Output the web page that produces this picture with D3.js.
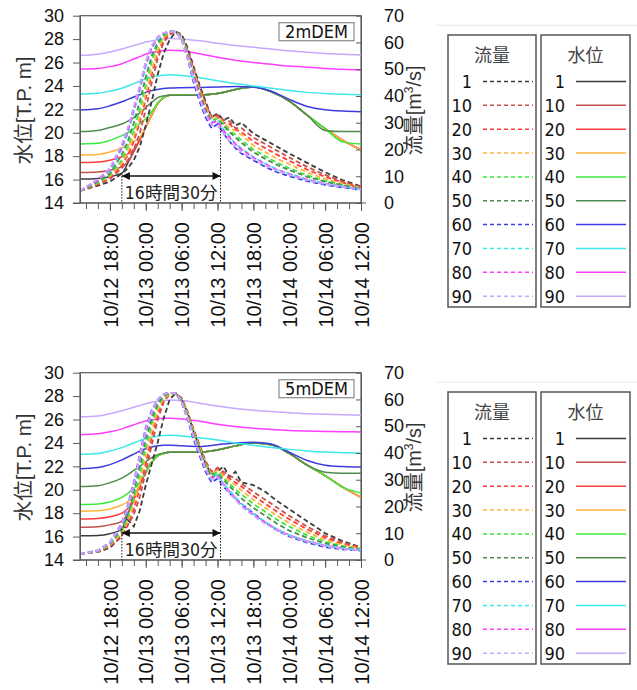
<!DOCTYPE html>
<html>
<head>
<meta charset="utf-8"/>
<script src="https://cdnjs.cloudflare.com/ajax/libs/d3/7.8.5/d3.min.js"></script>
<style>
  body { margin: 0; background: #fff; }
  svg { display: block; }
</style>
</head>
<body>
<script>
// cases (legend entries) and their colours
const caseLabels = ["1", "10", "20", "30", "40", "50", "60", "70", "80", "90"];
const caseColors = ["#3c3c3c", "#c8504a", "#ff3c3c", "#ffb43c", "#3ce83c", "#508c50", "#3c3ce0", "#3ce8e8", "#ff3cff", "#c8a8ff"];

// hours from 10/12 18:00
const levelHours = [-5, -2, 0, 2, 3, 4, 5, 6, 7, 8, 9, 10, 12, 15, 18, 21, 24, 27, 30, 33, 36, 39, 42];
const flowHours = [-5, -2, 0, 2, 3, 4, 5, 6, 7, 8, 9, 10, 11, 12, 13, 14, 15, 16, 17, 18, 19, 20, 21, 22, 24, 26, 28, 30, 33, 36, 39, 42];

// 水位 [T.P. m], 2mDEM
const level2m = [
  [16.04,16.1,16.25,16.55,17.4,18.4,19.4,20.5,21.5,22.5,23.0,23.2,23.2,23.22,23.35,23.7,23.9,23.5,22.7,21.5,20.35,19.35,18.55],
  [16.6,16.65,16.8,17.1,17.5,18.4,19.4,20.5,21.5,22.5,23.0,23.2,23.2,23.22,23.35,23.7,23.9,23.5,22.7,21.5,20.35,19.35,18.55],
  [17.46,17.5,17.65,17.95,18.2,18.6,19.4,20.5,21.5,22.5,23.0,23.2,23.2,23.22,23.35,23.7,23.9,23.5,22.7,21.5,20.35,19.35,18.55],
  [18.1,18.15,18.35,18.7,18.95,19.25,19.6,20.5,21.5,22.5,23.0,23.2,23.2,23.22,23.35,23.7,23.9,23.5,22.7,21.5,20.35,19.35,18.55],
  [19.05,19.1,19.35,19.75,20.0,20.35,20.8,21.2,21.8,22.55,23.0,23.2,23.2,23.22,23.35,23.7,23.9,23.5,22.7,21.5,20.35,19.2,19.05],
  [20.1,20.2,20.45,20.75,21.0,21.3,21.7,22.15,22.6,23.0,23.15,23.2,23.2,23.22,23.35,23.7,23.9,23.5,22.7,21.5,20.2,20.1,20.1],
  [21.95,22.05,22.3,22.65,22.85,23.05,23.25,23.45,23.6,23.7,23.78,23.82,23.85,23.87,23.9,23.95,23.9,23.55,22.85,22.25,21.97,21.85,21.8],
  [23.32,23.38,23.55,23.8,24.0,24.2,24.4,24.6,24.75,24.85,24.92,24.95,24.9,24.7,24.45,24.2,24.0,23.8,23.6,23.45,23.35,23.28,23.24],
  [25.45,25.5,25.65,25.9,26.1,26.3,26.5,26.7,26.85,26.95,27.02,27.05,27.0,26.75,26.45,26.2,26.0,25.85,25.7,25.6,25.5,25.42,25.37],
  [26.6,26.7,26.9,27.15,27.3,27.45,27.6,27.75,27.85,27.95,28.0,28.05,28.0,27.85,27.65,27.45,27.3,27.15,27.0,26.88,26.78,26.7,26.65]
];

// 流量 [m3/s], 2mDEM
const flow2m = [
  [4.5,6.5,8,11,13,16,21,29,38,48,56,61,64,63,58,51,44,38,32,33.5,31,32,29,30,26,23.5,21,18.5,15,11.5,8.5,6.2],
  [4.5,7,9,13,16,20,26,35,45,54,60,63,64,62.5,57,50,43,37,32,33,31,30.5,28,28,24.5,22,19.5,17,13.5,10.5,8,6],
  [4.5,7,9.5,14,18,23,30,39,48,56,61,63.5,64,62,57,50,43,37,32,32.5,30,29.5,27.5,26.5,23,20.5,18,15.8,12.5,9.8,7.6,5.8],
  [4.5,7.5,10,15,19,25,32,41,50,57,62,64,64,62,56,49,42,36,31,32,30,28,27,25.5,21.5,19,16.5,14.5,11.5,9,7.2,5.6],
  [4.5,7.5,10.5,16,21,27,35,44,53,59,62.5,64,64,62,56,48,41,35,31,31.5,29.5,27,25.5,23.5,20,17.5,15,13,10.3,8.3,6.8,5.4],
  [4.5,8,11,18,23,30,38,47,55,60,63,64,64,61.5,55,48,41,35,30,31,29,26.5,24.5,22.5,19,16.5,14.2,12.3,9.8,8,6.6,5.3],
  [4.5,8.8,12.8,21.5,27.5,35.5,43.5,52.5,58.5,62,63.5,64,64,61,54,45,38,32,28,29.5,26,23,20.5,18.5,16,13.5,11.5,10,8.2,6.8,5.8,4.9],
  [4.5,8.5,12,20,26,34,42,51,58,61.5,63.5,64,64,61.5,55,47,40,33,30,31,27.5,25,22,20.5,17.2,14.7,12.5,11,8.8,7.3,6.2,5.1],
  [4.5,8.5,12.5,21,27,35,43,52,58,62,63.5,64,64,61,55,47,40,34,30,30.5,27,24.5,22,20,17,14.5,12.3,10.8,8.7,7.2,6.1,5.1],
  [4.5,9,13,22,28,36,44,53,59,62,63.5,64,64,61,54,46,39,33,29,29,26,23,21,19,16.5,14,12,10.5,8.5,7,6,5]
];

// 水位 [T.P. m], 5mDEM
const level5m = [
  [16.08,16.1,16.25,16.65,17.9,19.2,20.4,21.5,22.35,22.9,23.1,23.2,23.2,23.22,23.4,23.75,24.0,23.85,23.1,22.1,21.2,20.2,19.35],
  [16.8,16.85,17.0,17.3,18.0,19.2,20.4,21.5,22.35,22.9,23.1,23.2,23.2,23.22,23.4,23.75,24.0,23.85,23.1,22.1,21.2,20.2,19.35],
  [17.5,17.55,17.7,18.0,18.4,19.3,20.4,21.5,22.35,22.9,23.1,23.2,23.2,23.22,23.4,23.75,24.0,23.85,23.1,22.1,21.2,20.2,19.35],
  [18.17,18.2,18.35,18.7,19.0,19.5,20.45,21.5,22.35,22.9,23.1,23.2,23.2,23.22,23.4,23.75,24.0,23.85,23.1,22.1,21.2,20.2,19.35],
  [18.74,18.78,18.95,19.35,19.7,20.1,20.6,21.5,22.35,22.9,23.1,23.2,23.2,23.22,23.4,23.75,24.0,23.85,23.1,22.1,21.2,20.2,19.72],
  [20.28,20.35,20.6,21.0,21.3,21.65,22.0,22.4,22.75,23.0,23.15,23.2,23.2,23.22,23.4,23.75,24.0,23.85,23.1,22.1,21.5,21.42,21.42],
  [21.8,21.9,22.15,22.55,22.8,23.05,23.3,23.5,23.65,23.75,23.8,23.8,23.75,23.7,23.85,24.0,24.05,23.9,23.2,22.5,22.1,21.98,21.94],
  [23.03,23.1,23.3,23.6,23.8,24.0,24.2,24.38,24.5,24.58,24.63,24.65,24.6,24.45,24.25,24.0,23.8,23.6,23.45,23.32,23.22,23.17,23.14],
  [24.7,24.78,24.95,25.2,25.38,25.55,25.72,25.87,25.97,26.05,26.1,26.1,26.05,25.85,25.6,25.4,25.25,25.15,25.07,25.02,24.98,24.96,24.94],
  [26.23,26.3,26.5,26.75,26.9,27.05,27.2,27.35,27.47,27.56,27.62,27.66,27.62,27.4,27.15,26.95,26.8,26.68,26.58,26.5,26.44,26.4,26.37]
];

// 流量 [m3/s], 5mDEM
const flow5m = [
  [2.2,3,4.5,9,15,12.5,18.5,28,36,44,53,60,62.3,60,55,48,42,36,32,33,35,31,33,29,28,25.5,22,19,14.5,10,7,4.7],
  [2.2,3.1,5,9,13,17,23.5,33,43,52.5,59,62,62.3,60.5,55.5,49,43,37,33,34.5,33,31.5,30.5,28.5,25.5,22.5,19.5,16.5,12.5,9,6.5,4.6],
  [2.2,3.2,5.3,9.5,13.5,19,26.5,36,46,54.5,60,62,62.3,60.5,55.5,48.5,42.5,36.5,32.5,34,32,30.5,29,27.5,24,21,18,15.2,11.5,8.3,6,4.5],
  [2.2,3.3,5.5,10,14.5,21,29,39,48.5,56,60.5,62,62.3,60,55,48,42,36,32,33.5,31.5,29.5,28,26,22.5,19.5,16.5,13.8,10.3,7.5,5.6,4.3],
  [2.2,3.3,5.8,11,16,23,32,42,51,57.5,61,62.3,62.3,60,54.5,47.5,41.5,35.5,31.5,33,30.5,28.5,26.5,24.5,21,18,15,12.5,9.2,6.8,5.2,4.1],
  [2.2,3.4,6,12,17.5,25.5,35,45,53,58.5,61.5,62.5,62.3,59.5,54,47,41,35,31,32,30,27.5,25.5,23,19.5,16.5,13.5,11,8.3,6.2,4.8,3.9],
  [2.2,3.6,6.6,13.8,20.5,29,39.5,49.5,56,60,62,62.5,62.3,59,52.5,45,39,33,29,30.5,27.5,25,23,21,17.5,14,11,8.8,6.5,4.8,4,3.5],
  [2.2,3.5,6.2,12.8,19,27.5,37.5,47.5,55,59.5,62,62.5,62.3,59.5,53.5,46.5,40,34,30,32,28.5,26,23.5,21,17.2,14.2,11.5,9.4,7.1,5.5,4.4,3.7],
  [2.2,3.5,6.3,13,19.5,28,38,48,55,59.8,62,62.5,62.3,59,53,46,40,34,30.5,31.5,28.5,25.5,23,20.5,17,14,11.3,9.2,7,5.4,4.3,3.7],
  [2.2,3.5,6.5,13.5,20,28.5,39,49,55.5,60,62,62.5,62.3,59,53,46,40,34,30,31,28,25,22.5,20,16.5,13.5,11,9,6.8,5.2,4.2,3.6]
];

// annotation: 16時間30分 between two times (hours), dotted lines start at these values
const annHours = [2, 18.5];
const annLevel = [16.55, 16.65];   // left dotted line top (水位)
const annFlow = [28, 29.5];         // right dotted line top (流量)

const panelNames = ["2mDEM", "5mDEM"];
const levelTicks = d3.range(14, 31, 2);
const flowTicks = d3.range(0, 71, 10);

const W = 637, H = 690;
const base = new Date(2019, 9, 12, 18, 0);
const toDate = h => new Date(base.getTime() + h * 3600e3);

const svg = d3.select("body").append("svg").attr("width", W).attr("height", H);
const defs = svg.append("defs");
["start", "end"].forEach(k => {
  defs.append("marker").attr("id", "arr-" + k)
    .attr("viewBox", "0 0 10 10").attr("refX", k === "end" ? 10 : 0).attr("refY", 5)
    .attr("markerWidth", 9).attr("markerHeight", 8).attr("markerUnits", "userSpaceOnUse")
    .attr("orient", "auto")
    .append("path")
    .attr("d", k === "end" ? "M0,0L10,5L0,10Z" : "M10,0L0,5L10,10Z")
    .attr("fill", "#111");
});

const axisColor = "#5a5a5a";
const latin = "'Liberation Sans', Arial, 'Noto Sans CJK JP', sans-serif";
const legendFont = "'DejaVu Sans Condensed', 'DejaVu Sans', sans-serif";

const panelTops = [15.7, 372.7];
const plotH = 187.3;

panelNames.forEach((name, pi) => {
  const top = panelTops[pi], bottom = top + plotH;
  const levels = pi === 0 ? level2m : level5m;
  const flows = pi === 0 ? flow2m : flow5m;

  const x = d3.scaleTime().domain([toDate(-5), toDate(42)]).range([80, 361]);
  const yL = d3.scaleLinear().domain([14, 30]).range([bottom, top]);
  const yR = d3.scaleLinear().domain([0, 70]).range([bottom, top]);

  const g = svg.append("g");

  // frame
  g.append("rect").attr("x", 80).attr("y", top).attr("width", 281).attr("height", plotH)
    .attr("fill", "none").attr("stroke", axisColor).attr("stroke-width", 1.2);
  g.append("line").attr("x1", 73).attr("x2", 366).attr("y1", bottom).attr("y2", bottom)
    .attr("stroke", axisColor).attr("stroke-width", 1.2);

  // water level lines
  const levelLine = d3.line()
    .x((d, i) => x(toDate(levelHours[i])))
    .y(d => yL(d))
    .curve(d3.curveMonotoneX);
  g.append("g").selectAll("path").data(levels).join("path")
    .attr("d", levelLine)
    .attr("fill", "none")
    .attr("stroke", (d, i) => caseColors[i])
    .attr("stroke-width", 1.5);

  // flow lines (dashed)
  const flowLine = d3.line()
    .x((d, i) => x(toDate(flowHours[i])))
    .y(d => yR(d));
  g.append("g").selectAll("path").data(flows).join("path")
    .attr("d", flowLine)
    .attr("fill", "none")
    .attr("stroke", (d, i) => caseColors[i])
    .attr("stroke-width", 1.8)
    .attr("stroke-dasharray", "5,3");

  // left axis
  const ax = g.append("g").attr("transform", "translate(80,0)")
    .call(d3.axisLeft(yL).tickValues(levelTicks).tickSize(7).tickSizeOuter(0).tickPadding(9));
  ax.select(".domain").attr("stroke", axisColor);
  ax.selectAll(".tick line").attr("stroke", axisColor);
  ax.selectAll("text").attr("font-family", latin).attr("font-size", 18).attr("fill", "#111");

  // right axis
  const ar = g.append("g").attr("transform", "translate(361,0)")
    .call(d3.axisRight(yR).tickValues(flowTicks).tickSizeInner(-5).tickSizeOuter(0).tickPadding(23));
  ar.select(".domain").attr("stroke", axisColor);
  ar.selectAll(".tick line").attr("stroke", axisColor);
  ar.selectAll("text").attr("font-family", latin).attr("font-size", 18).attr("fill", "#111");

  // bottom axis: minor ticks every 2 h, labels every 6 h
  const minor = d3.range(-4, 43, 2).map(toDate);
  const major = d3.range(0, 43, 6).map(toDate);
  const amin = g.append("g").attr("transform", `translate(0,${bottom})`)
    .call(d3.axisBottom(x).tickValues(minor).tickSize(6).tickSizeOuter(0).tickFormat(""));
  amin.select(".domain").remove();
  amin.selectAll(".tick line").attr("stroke", axisColor);
  const amaj = g.append("g").attr("transform", `translate(0,${bottom})`)
    .call(d3.axisBottom(x).tickValues(major).tickSize(8).tickSizeOuter(0)
      .tickFormat(d3.timeFormat("%m/%d %H:%M")));
  amaj.select(".domain").remove();
  amaj.selectAll(".tick line").attr("stroke", axisColor);
  amaj.selectAll("text")
    .attr("transform", "rotate(-90)")
    .attr("text-anchor", "end")
    .attr("x", -19).attr("y", 0).attr("dy", "0.36em")
    .attr("font-family", latin).attr("font-size", 20).attr("fill", "#111");

  // axis titles
  const cy = (top + bottom) / 2 + 1;
  g.append("text").attr("transform", `translate(31,${cy}) rotate(-90)`)
    .attr("text-anchor", "middle").attr("font-family", latin).attr("font-size", 20.5).attr("fill", "#333")
    .text("水位[T.P. m]");
  const rt = g.append("text").attr("transform", `translate(421,${cy}) rotate(-90)`)
    .attr("text-anchor", "middle").attr("font-family", latin).attr("font-size", 20).attr("fill", "#333");
  rt.append("tspan").text("流量[m");
  rt.append("tspan").attr("font-size", 12).attr("dy", -8).text("3");
  rt.append("tspan").attr("dy", 8).text("/s]");

  // DEM label
  g.append("rect").attr("x", 279).attr("y", top + 7).attr("width", 75).attr("height", 18)
    .attr("fill", "#fff").attr("stroke", "#8a8a8a").attr("stroke-width", 1.2);
  g.append("text").attr("x", 316.5).attr("y", top + 22.5).attr("text-anchor", "middle")
    .attr("font-family", legendFont).attr("font-size", 18).attr("fill", "#111").text(name);

  // 16時間30分 annotation
  const xa = x(toDate(annHours[0])), xb = x(toDate(annHours[1]));
  g.append("line").attr("x1", xa).attr("x2", xa).attr("y1", yL(annLevel[pi])).attr("y2", bottom)
    .attr("stroke", "#111").attr("stroke-dasharray", "1.5,1.5");
  g.append("line").attr("x1", xb).attr("x2", xb).attr("y1", yR(annFlow[pi])).attr("y2", bottom)
    .attr("stroke", "#111").attr("stroke-dasharray", "1.5,1.5");
  g.append("line").attr("x1", xa).attr("x2", xb).attr("y1", bottom - 27).attr("y2", bottom - 27)
    .attr("stroke", "#111").attr("stroke-width", 1.5)
    .attr("marker-start", "url(#arr-start)").attr("marker-end", "url(#arr-end)");
  g.append("text").attr("x", xa + 3).attr("y", bottom - 4)
    .attr("font-family", "'DejaVu Sans Condensed', 'Noto Sans CJK JP', sans-serif").attr("font-size", 17)
    .attr("textLength", xb - xa - 6).attr("lengthAdjust", "spacingAndGlyphs")
    .attr("fill", "#222").text("16時間30分");

  // legends
  const ly = top + 19.3;
  g.append("line").attr("x1", 437).attr("x2", 637).attr("y1", top + 9.5).attr("y2", top + 9.5)
    .attr("stroke", "#e6e6e6");
  const boxes = [
    { x: 448, w: 88, title: "流量", dash: "4,3" },
    { x: 541, w: 89, title: "水位", dash: null }
  ];
  boxes.forEach(b => {
    const lg = g.append("g");
    lg.append("rect").attr("x", b.x).attr("y", ly).attr("width", b.w).attr("height", 272)
      .attr("fill", "#fff").attr("stroke", "#555").attr("stroke-width", 1.5);
    lg.append("text").attr("x", b.x + b.w / 2).attr("y", ly + 26.5).attr("text-anchor", "middle")
      .attr("font-family", "'Noto Sans CJK JP', sans-serif").attr("font-size", 18).attr("fill", "#444")
      .text(b.title);
    const rows = lg.selectAll("g.row").data(caseLabels).join("g")
      .attr("transform", (d, i) => `translate(0,${ly + 53 + i * 23.85})`);
    rows.append("text").attr("x", b.x + 24).attr("text-anchor", "end")
      .attr("font-family", legendFont).attr("font-size", 18).attr("fill", "#111")
      .text(d => d);
    rows.append("line").attr("x1", b.x + 35).attr("x2", b.x + 85).attr("y1", -6.5).attr("y2", -6.5)
      .attr("stroke", (d, i) => caseColors[i]).attr("stroke-width", 1.5)
      .attr("stroke-dasharray", b.dash);
  });
});
</script>
</body>
</html>
